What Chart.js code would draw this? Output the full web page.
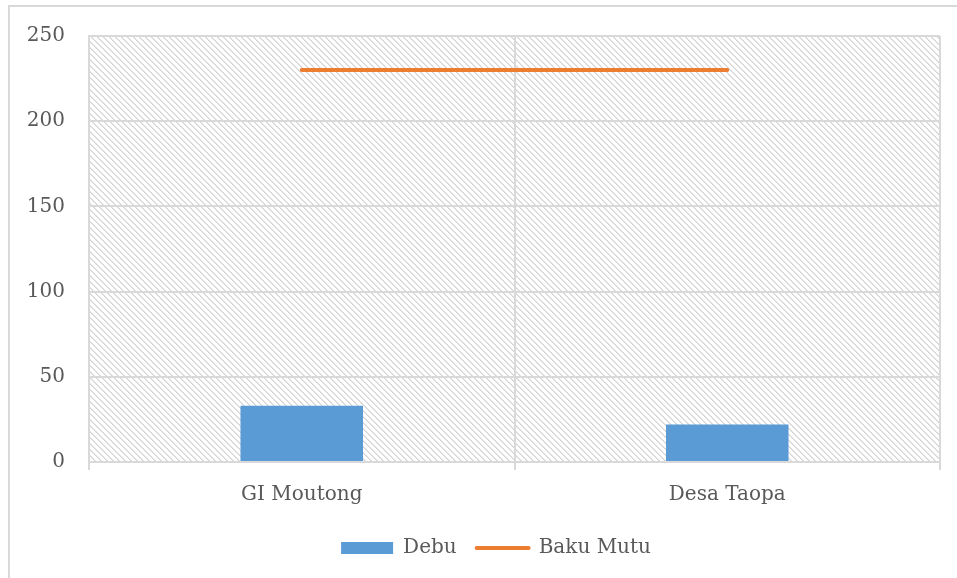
<!DOCTYPE html>
<html>
<head>
<meta charset="utf-8">
<script src="https://cdn.jsdelivr.net/npm/chart.js@4"></script>
<style>
  html, body { margin: 0; padding: 0; background: #ffffff; }
  #wrap { width: 957px; height: 578px; position: relative; }
</style>
</head>
<body>
<div id="wrap"><canvas id="c" width="957" height="578"></canvas></div>
<script>
const categories = ['GI Moutong', 'Desa Taopa'];
const debu = [33, 22];
const bakuMutu = [230, 230];
const yTicks = [0, 50, 100, 150, 200, 250];

const FONT = "'DejaVu Serif', serif";
const TEXT = '#595959';
const GRID = '#d9d9d9';

// Diagonal hatch tile for the plot background
function hatchPattern(ctx) {
  const n = 6;
  const tile = document.createElement('canvas');
  tile.width = n; tile.height = n;
  const t = tile.getContext('2d');
  t.fillStyle = '#ffffff';
  t.fillRect(0, 0, n, n);
  for (let y = 0; y < n; y++) {
    for (let x = 0; x < n; x++) {
      const d = ((x - y) % n + n) % n;
      if (d === 0) { t.fillStyle = '#d4d4d4'; t.fillRect(x, y, 1, 1); }
      else if (d === 1) { t.fillStyle = '#e4e4e4'; t.fillRect(x, y, 1, 1); }
    }
  }
  return ctx.createPattern(tile, 'repeat');
}

const backdrop = {
  id: 'backdrop',
  afterLayout(chart) {
    // nudge the legend row to the right, under the plot
    if (chart.legend) { chart.legend.left += 26; chart.legend.right += 26; }
  },
  beforeDraw(chart) {
    const { ctx, chartArea: a } = chart;
    ctx.save();
    ctx.fillStyle = hatchPattern(ctx);
    ctx.fillRect(a.left, a.top, a.right - a.left, a.bottom - a.top);
    // outer frame
    ctx.strokeStyle = GRID;
    ctx.lineWidth = 2;
    ctx.strokeRect(9, 6, 1200, 1200);
    ctx.restore();
  }
};

new Chart(document.getElementById('c'), {
  data: {
    labels: categories,
    datasets: [
      {
        type: 'line',
        label: 'Baku Mutu',
        data: bakuMutu,
        borderColor: '#ed7d31',
        backgroundColor: '#ed7d31',
        borderWidth: 4,
        borderCapStyle: 'round',
        pointRadius: 0,
        pointHoverRadius: 0,
        order: 0
      },
      {
        type: 'bar',
        label: 'Debu',
        data: debu,
        backgroundColor: '#5b9bd5',
        borderWidth: 0,
        categoryPercentage: 1,
        barPercentage: 0.288,
        order: 1
      }
    ]
  },
  plugins: [backdrop],
  options: {
    responsive: false,
    animation: false,
    events: [],
    layout: { padding: { left: 0, right: 17, top: 36, bottom: 10 } },
    plugins: {
      tooltip: { enabled: false },
      legend: {
        position: 'bottom',
        reverse: true,
        labels: {
          usePointStyle: true,
          pointStyleWidth: 52,
          boxHeight: 12,
          color: TEXT,
          font: { family: FONT, size: 20 },
          padding: 20,
          generateLabels(chart) {
            return chart.data.datasets.map((ds, i) => ({
              text: ds.label,
              fillStyle: ds.backgroundColor,
              strokeStyle: ds.type === 'line' ? ds.borderColor : ds.backgroundColor,
              lineWidth: ds.type === 'line' ? 4 : 0,
              lineCap: 'round',
              pointStyle: ds.type === 'line' ? 'line' : 'rect',
              fontColor: TEXT,
              hidden: false,
              datasetIndex: i
            }));
          }
        }
      }
    },
    scales: {
      x: {
        offset: true,
        grid: { color: GRID, lineWidth: 2, offset: true, drawTicks: true, tickLength: 8 },
        border: { color: GRID, width: 2 },
        ticks: { color: TEXT, font: { family: FONT, size: 20 }, padding: 13 },
        afterFit(s) { s.height = 56; }
      },
      y: {
        min: 0,
        max: 250,
        afterBuildTicks(s) { s.ticks = yTicks.map(v => ({ value: v })); },
        grid: { color: GRID, lineWidth: 2, drawTicks: false },
        border: { color: GRID, width: 2 },
        ticks: { color: TEXT, font: { family: FONT, size: 20 }, padding: 24 },
        afterFit(s) { s.width = 89; }
      }
    }
  }
});
</script>
</body>
</html>
